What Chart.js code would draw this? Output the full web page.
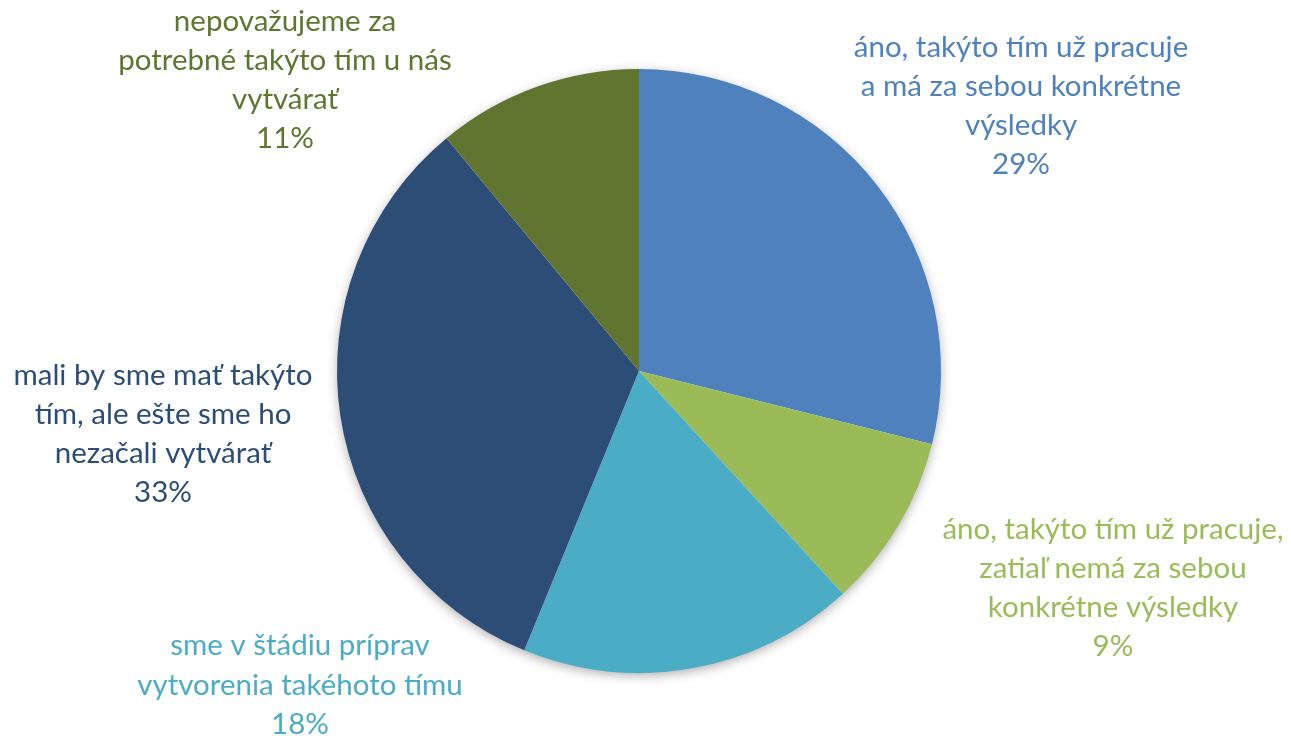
<!DOCTYPE html>
<html>
<head>
<meta charset="utf-8">
<script src="https://cdn.jsdelivr.net/npm/chart.js@4.4.1/dist/chart.umd.min.js"></script>
<style>
  html, body { margin: 0; padding: 0; background: #fff; }
  #wrap { width: 1291px; height: 738px; position: relative; }
</style>
</head>
<body>
<div id="wrap"><canvas id="pieChart"></canvas></div>
<script>
// data (share of answers, %)
var labels = [
    ['áno, takýto tím už pracuje', 'a má za sebou konkrétne', 'výsledky'],
    ['áno, takýto tím už pracuje,', 'zatiaľ nemá za sebou', 'konkrétne výsledky'],
    ['sme v štádiu príprav', 'vytvorenia takéhoto tímu'],
    ['mali by sme mať takýto', 'tím, ale ešte sme ho', 'nezačali vytvárať'],
    ['nepovažujeme za', 'potrebné takýto tím u nás', 'vytvárať']
];
var values = [28.9, 9.3, 18.0, 32.8, 11.0];

var colors = ['#4F81BD', '#9BBB59', '#4BACC6', '#2C4D75', '#5F7530'];

// where each label block sits, relative to the pie centre, in radii
var labelOffsets = [
    [382 / 302, -265 / 302],
    [474 / 302, 217 / 302],
    [-339 / 302, 314 / 302],
    [-476 / 302, 63 / 302],
    [-354 / 302, -291 / 302]
];
var labelFont = '29.5px Lato';
var lineHeight = 39.3;

var shadowPlugin = {
    id: 'pieShadow',
    beforeDatasetsDraw: function (chart) {
        var arc = chart.getDatasetMeta(0).data[0];
        if (!arc) return;
        var ctx = chart.ctx;
        ctx.save();
        ctx.shadowColor = 'rgba(0,0,0,0.35)';
        ctx.shadowBlur = 12;
        ctx.shadowOffsetY = 3;
        ctx.fillStyle = '#fff';
        ctx.beginPath();
        ctx.arc(arc.x, arc.y, arc.outerRadius - 1, 0, Math.PI * 2);
        ctx.fill();
        ctx.restore();
    }
};

var labelPlugin = {
    id: 'outerLabels',
    afterDatasetsDraw: function (chart) {
        var ctx = chart.ctx;
        var meta = chart.getDatasetMeta(0);
        ctx.save();
        ctx.font = labelFont;
        ctx.textAlign = 'center';
        ctx.textBaseline = 'middle';
        meta.data.forEach(function (arc, i) {
            var lines = labels[i].concat([Math.round(values[i]) + '%']);
            var cx = arc.x + labelOffsets[i][0] * arc.outerRadius;
            var cy = arc.y + labelOffsets[i][1] * arc.outerRadius;
            var top = cy - (lines.length - 1) * lineHeight / 2;
            ctx.fillStyle = colors[i];
            lines.forEach(function (t, j) {
                ctx.fillText(t, cx, top + j * lineHeight);
            });
        });
        ctx.restore();
    }
};

var ctx = document.getElementById('pieChart').getContext('2d');
var pieChart = new Chart(ctx, {
    type: 'pie',
    data: {
        labels: labels.map(function (l) { return l.join(' '); }),
        datasets: [{
            data: values,
            backgroundColor: colors,
            borderWidth: 0
        }]
    },
    options: {
        responsive: true,
        maintainAspectRatio: false,
        animation: false,
        layout: {
            padding: { top: 69, bottom: 65, left: 0, right: 13 }
        },
        plugins: {
            legend: { display: false },
            tooltip: { enabled: false }
        }
    },
    plugins: [shadowPlugin, labelPlugin]
});
</script>
</body>
</html>
